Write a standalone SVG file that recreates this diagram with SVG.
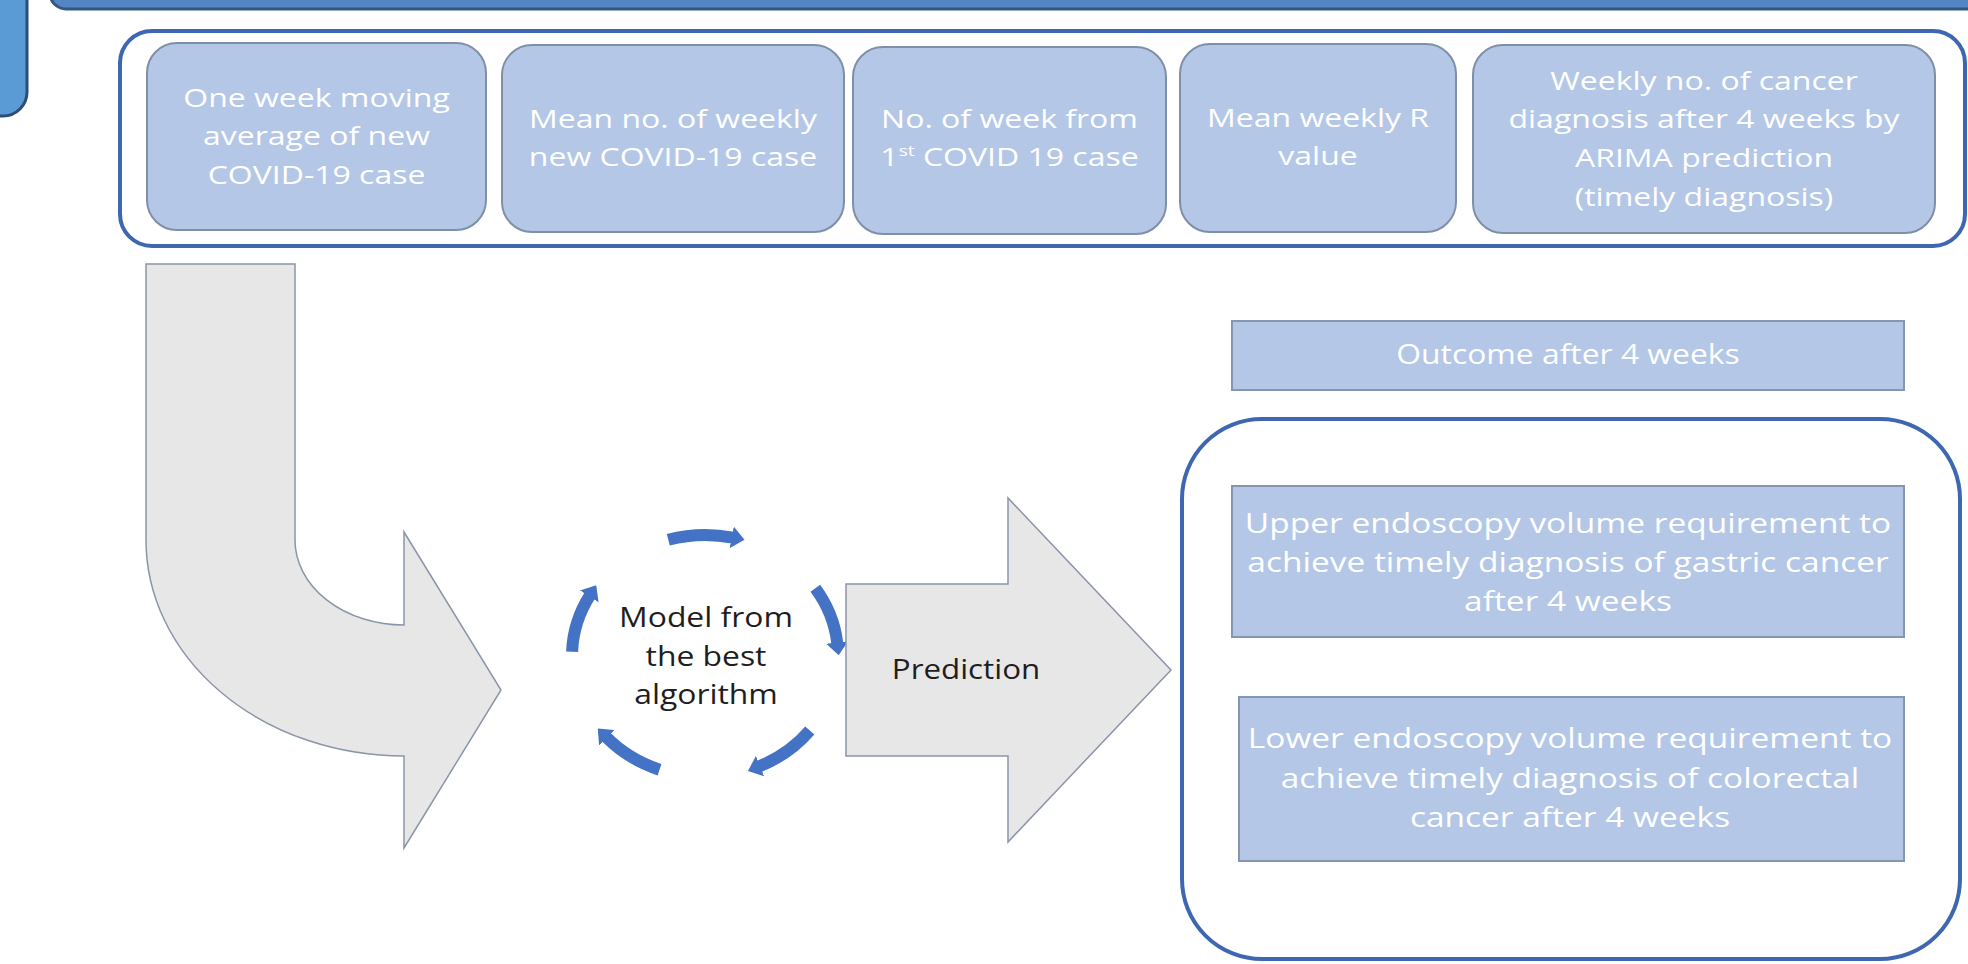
<svg xmlns="http://www.w3.org/2000/svg" width="1968" height="964" viewBox="0 0 1968 964">
<style>
.bg{fill:#ffffff}
.hdr{fill:#5586c4;stroke:#35577f;stroke-width:3}
.side{fill:#5b9bd5;stroke:#2c4d75;stroke-width:3}
.cont{fill:#ffffff;stroke:#3f67b1;stroke-width:4}
.box{fill:#b4c7e7;stroke:#7f8fa8;stroke-width:2}
.rbox{fill:#b4c7e7;stroke:#8496b0;stroke-width:2}
.garrow{fill:#e8e7e8;stroke:#8a95a8;stroke-width:1.5}
.cyc{fill:none;stroke:#4472c4;stroke-width:12;marker-end:url(#ah)}
.wt{font-family:"Open Sans","Liberation Sans",sans-serif;fill:#ffffff;text-anchor:middle}
.t25{font-size:25px}
.t27{font-size:27px}
.bt{font-family:"Open Sans","Liberation Sans",sans-serif;fill:#1e1e1e;text-anchor:middle;font-size:27px}
</style>
<defs>
<marker id="ah" viewBox="0 0 13 22" refX="1" refY="11" markerWidth="13" markerHeight="22" orient="auto" markerUnits="userSpaceOnUse">
<path d="M0,0 L13,11 L0,22 Z" fill="#4472c4"/>
</marker>
</defs>
<rect class="bg" x="0" y="0" width="1968" height="964"/>

<g id="header">
<rect class="hdr" x="50" y="-40" width="1960" height="49" rx="16"/>
</g>
<g id="side-tab">
<rect class="side" x="-30" y="-30" width="57" height="146" rx="24"/>
</g>

<g id="inputs-container">
<rect class="cont" x="120" y="31" width="1845" height="215" rx="32"/>
</g>

<g id="input-1">
<rect class="box" x="147" y="43" width="339" height="187" rx="30"/>
<text class="wt t25" transform="matrix(1.28 0 0 1 316.5 0)"><tspan x="0" y="107">One week moving</tspan><tspan x="0" y="145">average of new</tspan><tspan x="0" y="184">COVID-19 case</tspan></text>
</g>
<g id="input-2">
<rect class="box" x="502" y="45" width="342" height="187" rx="30"/>
<text class="wt t25" transform="matrix(1.28 0 0 1 673 0)"><tspan x="0" y="128">Mean no. of weekly</tspan><tspan x="0" y="166">new COVID-19 case</tspan></text>
</g>
<g id="input-3">
<rect class="box" x="853" y="47" width="313" height="187" rx="30"/>
<text class="wt t25" transform="matrix(1.28 0 0 1 1009.5 0)"><tspan x="0" y="128">No. of week from</tspan><tspan x="0" y="166">1<tspan font-size="15" dy="-10">st</tspan><tspan dy="10"> COVID 19 case</tspan></tspan></text>
</g>
<g id="input-4">
<rect class="box" x="1180" y="44" width="276" height="188" rx="30"/>
<text class="wt t25" transform="matrix(1.28 0 0 1 1318 0)"><tspan x="0" y="127">Mean weekly R</tspan><tspan x="0" y="165">value</tspan></text>
</g>
<g id="input-5">
<rect class="box" x="1473" y="45" width="462" height="188" rx="30"/>
<text class="wt t25" transform="matrix(1.28 0 0 1 1704 0)"><tspan x="0" y="90">Weekly no. of cancer</tspan><tspan x="0" y="128">diagnosis after 4 weeks by</tspan><tspan x="0" y="167">ARIMA prediction</tspan><tspan x="0" y="206">(timely diagnosis)</tspan></text>
</g>

<g id="connectors">
<path id="bent-arrow" class="garrow" d="M146,264 L295,264 L295,540 A109,85 0 0 0 404,625 L404,532 L501,690 L404,848 L404,756 A258,216 0 0 1 146,540 Z"/>
<path class="cyc" d="M668.3,539.7 A133,121 0 0 1 732.7,537.6"/>
<path class="cyc" d="M815.3,588.3 A133,121 0 0 1 837.3,643.4"/>
<path class="cyc" d="M809.8,730.5 A133,121 0 0 1 759.1,766.5"/>
<path class="cyc" d="M659.5,769.7 A133,121 0 0 1 606.2,737.0"/>
<path class="cyc" d="M572.1,651.8 A133,121 0 0 1 589.8,595.5"/>
</g>

<g id="model">
<text class="bt" transform="matrix(1.18 0 0 1 706 0)"><tspan x="0" y="627">Model from</tspan><tspan x="0" y="666">the best</tspan><tspan x="0" y="704">algorithm</tspan></text>
</g>

<g id="prediction">
<polygon class="garrow" points="846,584 1008,584 1008,498 1171,670 1008,842 1008,756 846,756"/>
<text class="bt" transform="matrix(1.16 0 0 1 966 0)"><tspan x="0" y="679">Prediction</tspan></text>
</g>

<g id="outcome-title">
<rect class="rbox" x="1232" y="321" width="672" height="69"/>
<text class="wt t27" transform="matrix(1.18 0 0 1 1568 0)"><tspan x="0" y="364">Outcome after 4 weeks</tspan></text>
</g>

<g id="outcomes-container">
<rect class="cont" x="1182" y="419" width="778" height="540" rx="80"/>
</g>

<g id="outcome-upper">
<rect class="rbox" x="1232" y="486" width="672" height="151"/>
<text class="wt t27" transform="matrix(1.24 0 0 1 1568 0)"><tspan x="0" y="533">Upper endoscopy volume requirement to</tspan><tspan x="0" y="572">achieve timely diagnosis of gastric cancer</tspan><tspan x="0" y="611">after 4 weeks</tspan></text>
</g>

<g id="outcome-lower">
<rect class="rbox" x="1239" y="697" width="665" height="164"/>
<text class="wt t27" transform="matrix(1.24 0 0 1 1570 0)"><tspan x="0" y="748">Lower endoscopy volume requirement to</tspan><tspan x="0" y="788">achieve timely diagnosis of colorectal</tspan><tspan x="0" y="827">cancer after 4 weeks</tspan></text>
</g>
</svg>
